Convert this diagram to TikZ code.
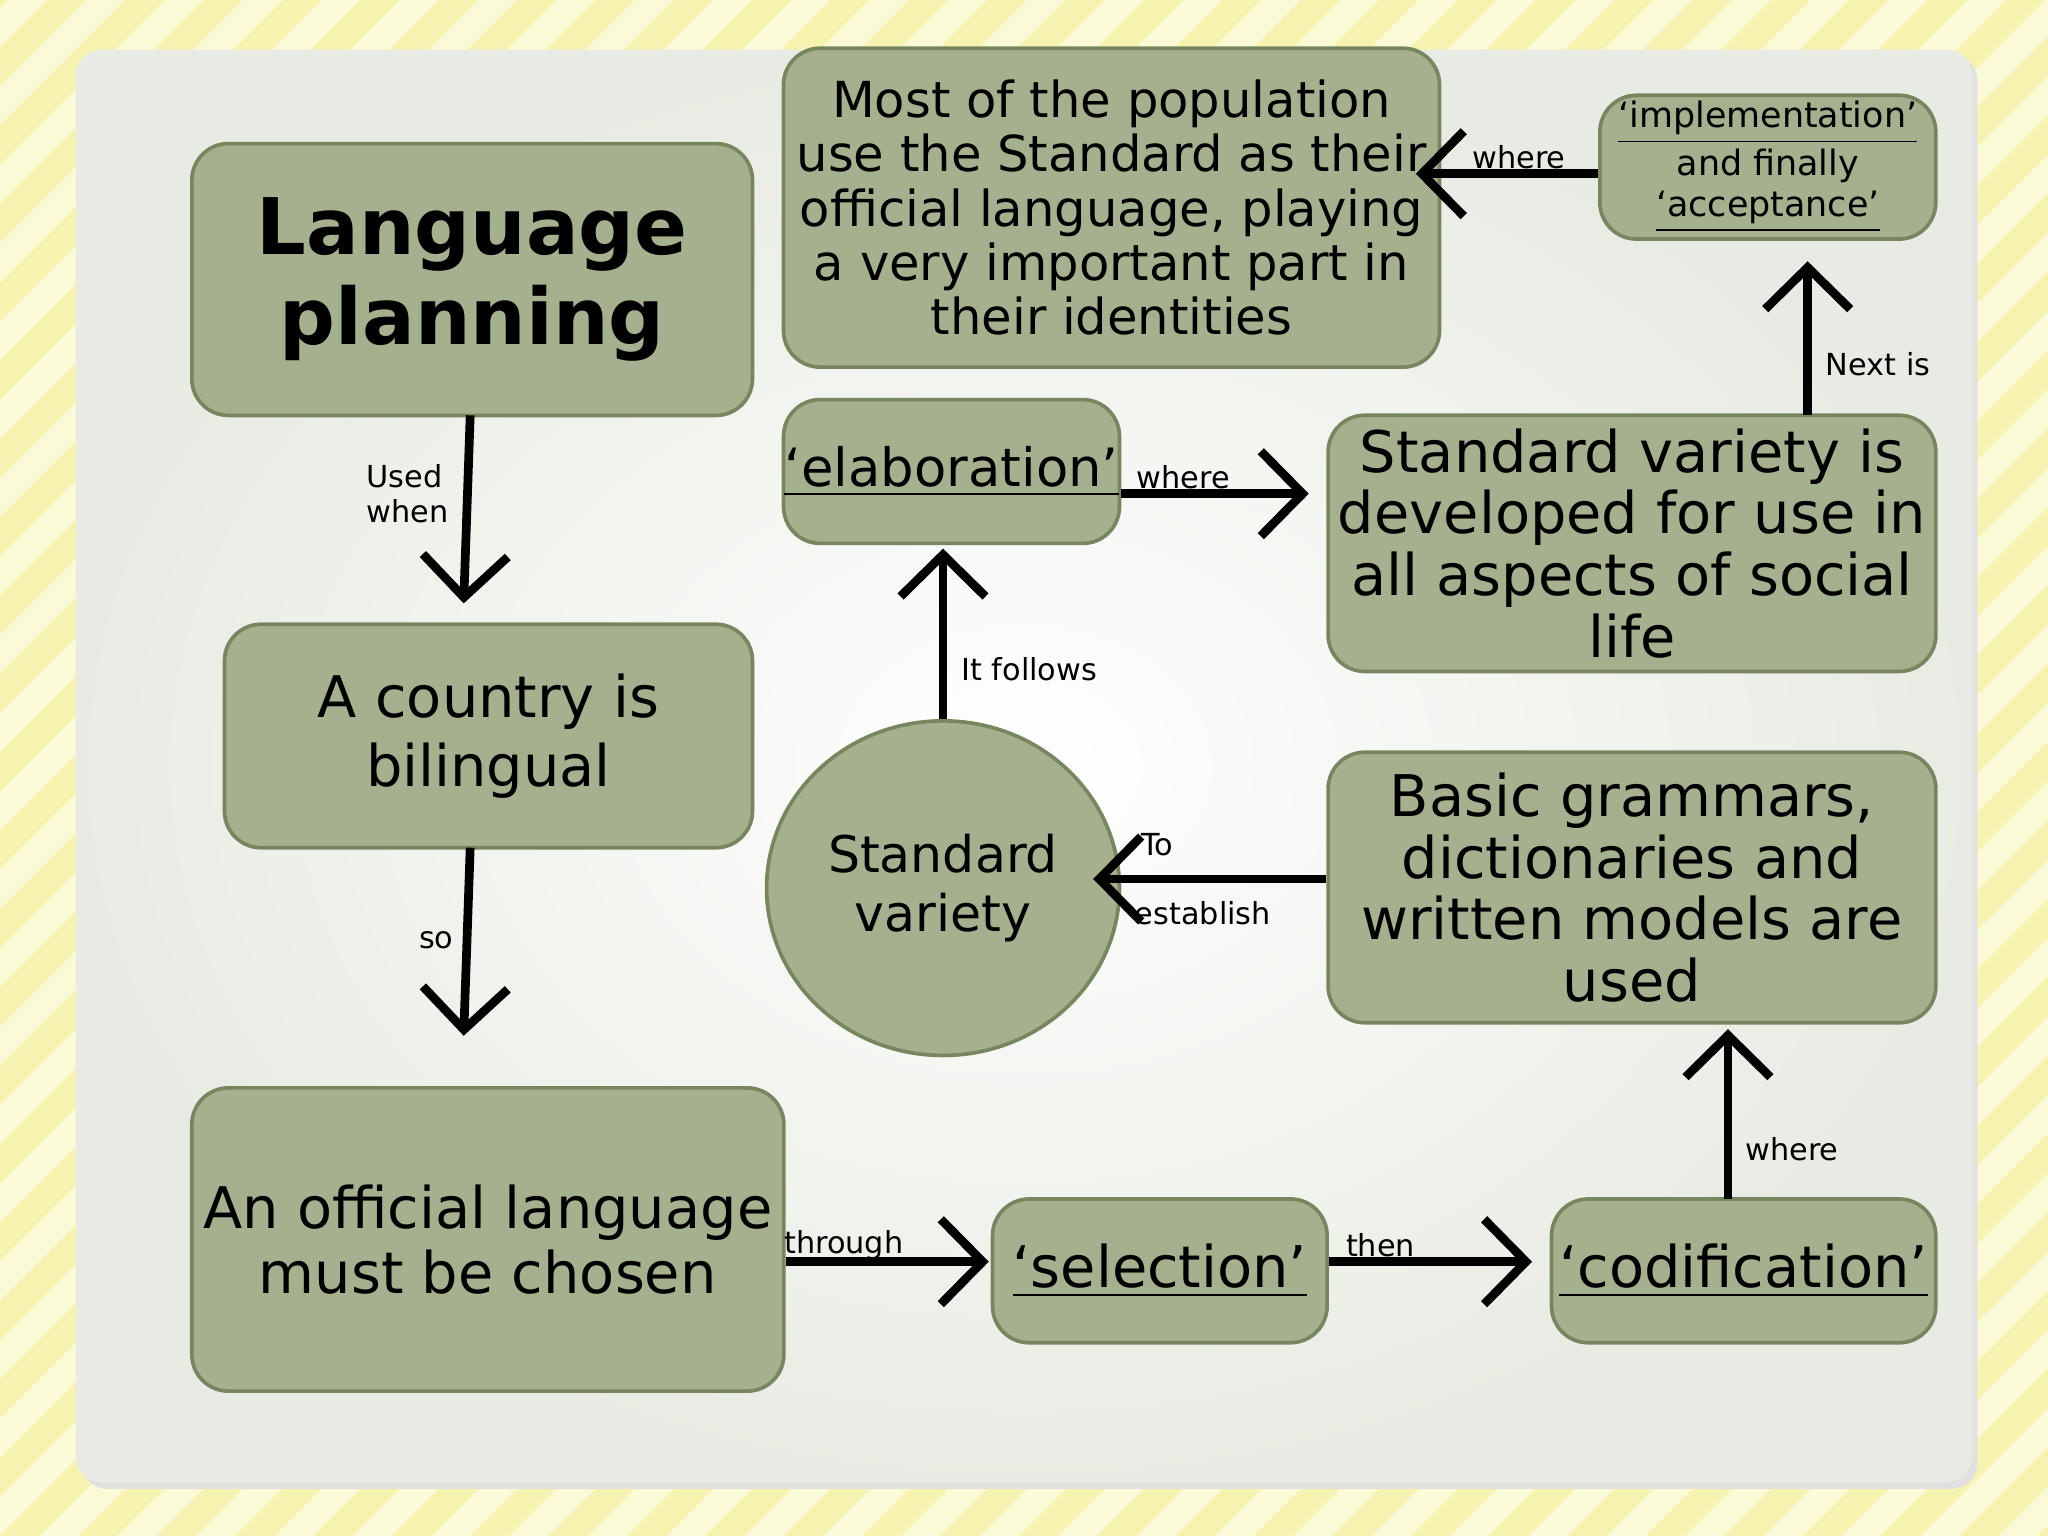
\documentclass[tikz,border=0pt]{standalone}
\usepackage{fontspec}
\setmainfont{DejaVu Sans}
\usetikzlibrary{arrows.meta,shapes.geometric}
\definecolor{boxfill}{HTML}{A4B08E}
\definecolor{boxline}{HTML}{76865F}
\definecolor{stripeA}{HTML}{F6F3B0}
\definecolor{stripeB}{HTML}{FBFAD6}
\tikzset{
  box/.style={draw=boxline,line width=0.8pt,fill=boxfill,rounded corners=0.28cm,align=center,inner sep=0pt},
  conn/.style={line width=1.9pt,-{Straight Barb[length=3.2mm,width=6.5mm,line width=1.9pt]}},
  lbl/.style={font=\fontsize{6.6}{7.8}\selectfont,inner sep=1pt,align=left},
}
\begin{document}
\begin{tikzpicture}[x=0.01cm,y=-0.01cm]
\useasboundingbox (0,0) rectangle (1568,1176);
\fill[stripeB] (0,0) rectangle (1568,1176);
\begin{scope}
\clip (0,0) rectangle (1568,1176);
\foreach \i in {-1200,-1140,...,1600} {
  \fill[stripeA] (\i,1176) -- (\i+30,1176) -- (\i+30+1176,0) -- (\i+1176,0) -- cycle;
}
\end{scope}
\fill[black!12,rounded corners=0.2cm] (62,42) rectangle (1514,1140);
\shade[rounded corners=0.2cm,inner color=white,outer color=boxfill!25!white] (58,38) rectangle (1510,1135);

\node[box,minimum width=4.29cm,minimum height=2.08cm,font=\fontsize{17}{19.5}\selectfont\bfseries] (lp) at (361.5,214) {Language\\planning};
\node[box,minimum width=4.04cm,minimum height=1.71cm,font=\fontsize{12.5}{15}\selectfont] (cty) at (374,563.5) {A country is\\bilingual};
\node[box,minimum width=4.53cm,minimum height=2.32cm,font=\fontsize{12.5}{14}\selectfont] (off) at (373.5,949) {An official language\\must be chosen};
\node[box,minimum width=2.56cm,minimum height=1.10cm,font=\fontsize{12.5}{14}\selectfont] (sel) at (888,973) {\underline{‘selection’}};
\node[box,minimum width=2.94cm,minimum height=1.10cm,font=\fontsize{12.5}{14}\selectfont] (cod) at (1335,973) {\underline{‘codification’}};
\node[box,minimum width=4.65cm,minimum height=2.07cm,font=\fontsize{12.5}{13.4}\selectfont] (bas) at (1249.5,679.5) {Basic grammars,\\dictionaries and\\written models are\\used};
\node[draw=boxline,line width=0.8pt,fill=boxfill,ellipse,minimum width=2.70cm,minimum height=2.56cm,align=center,inner sep=0pt,font=\fontsize{11}{13}\selectfont] (std) at (722,680) {Standard\\variety};
\node[box,minimum width=2.57cm,minimum height=1.10cm,font=\fontsize{11.5}{13}\selectfont] (ela) at (728.5,361) {\underline{‘elaboration’}};
\node[box,minimum width=4.65cm,minimum height=1.96cm,font=\fontsize{12.5}{13.4}\selectfont] (dev) at (1249.5,416) {Standard variety is\\developed for use in\\all aspects of social\\life};
\node[box,minimum width=5.02cm,minimum height=2.44cm,font=\fontsize{10.8}{11.8}\selectfont] (most) at (851,159) {Most of the population\\use the Standard as their\\official language, playing\\a very important part in\\their identities};
\node[box,minimum width=2.57cm,minimum height=1.10cm,font=\fontsize{7.6}{9}\selectfont] (imp) at (1353.5,128) {\underline{‘implementation’}\\and finally\\\underline{‘acceptance’}};

\coordinate (a1) at (355,462);
\draw[conn] (360,318) -- (a1);
\node[lbl] at (312,378) {Used\\when};
\coordinate (a2) at (355,793);
\draw[conn] (360,649) -- (a2);
\node[lbl] at (334,720) {so};
\draw[conn] (off.east |- 0,966) -- (757,966);
\node[lbl] at (646,953) {through};
\draw[conn] (sel.east |- 0,966) -- (1173,966);
\node[lbl] at (1057,953) {then};
\draw[conn] (1323,918) -- (1323,788);
\node[lbl] at (1372,880) {where};
\draw[conn] (bas.west |- 0,673) -- (837,673);
\node[lbl] at (886,647) {To};
\node[lbl] at (921,699) {establish};
\draw[conn] (std.north) -- (722,420);
\node[lbl] at (788,512) {It follows};
\draw[conn] (ela.east |- 0,378) -- (1002,378);
\node[lbl] at (906,365) {where};
\draw[conn] (1384,318) -- (1384,200);
\node[lbl] at (1438,279) {Next is};
\draw[conn] (imp.west |- 0,133) -- (1084,133);
\node[lbl] at (1163,120) {where};
\end{tikzpicture}
\end{document}
